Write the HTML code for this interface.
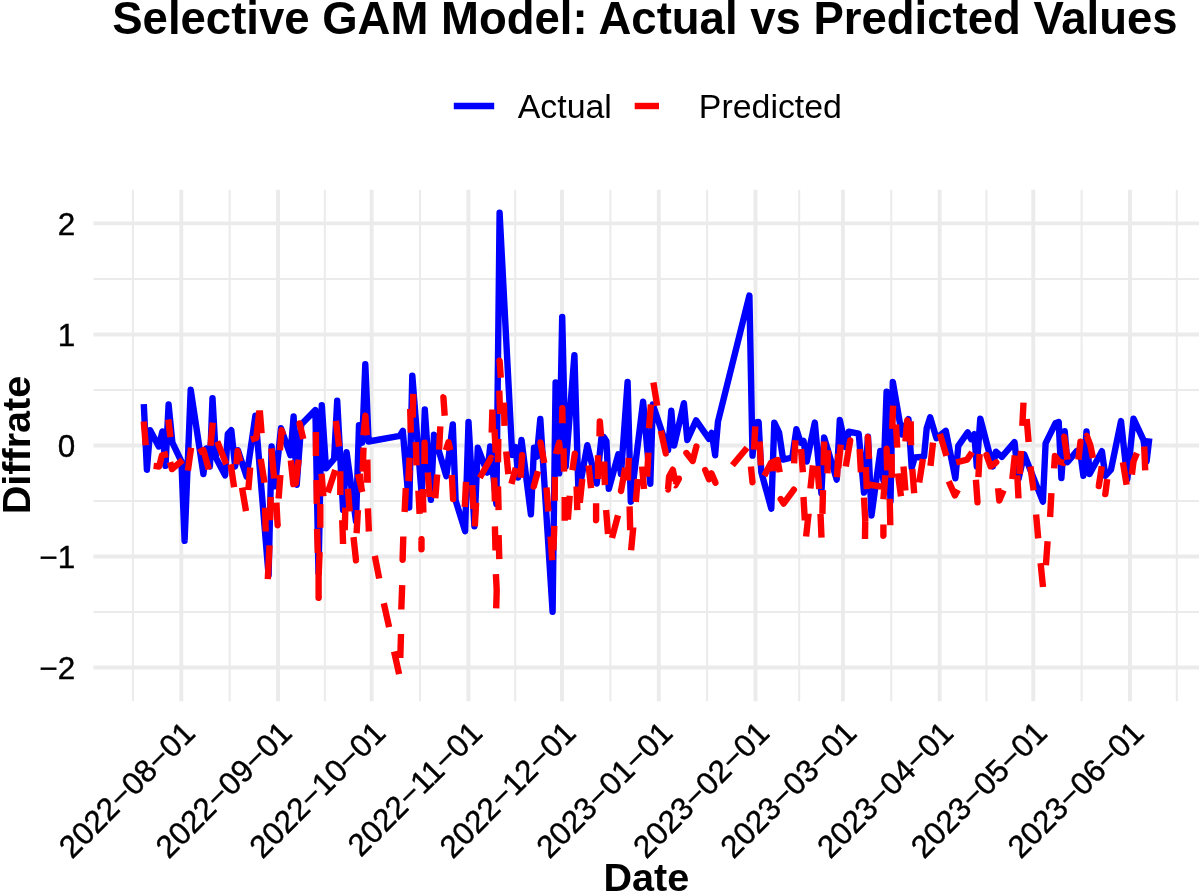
<!DOCTYPE html>
<html lang="en"><head><meta charset="utf-8"><title>Selective GAM Model: Actual vs Predicted Values</title>
<style>html,body{margin:0;padding:0;background:#fff;}body{width:1200px;height:893px;overflow:hidden;}svg{display:block;}text{font-family:"Liberation Sans",Arial,sans-serif;fill:#000;}.tk{font-size:31.45px;fill:#000;stroke:#000;stroke-width:0.4px;}.lg{font-size:33.9px;}.b{font-weight:bold;}</style></head><body>
<svg width="1200" height="893" viewBox="0 0 1200 893">
<rect x="0" y="0" width="1200" height="893" fill="#fff"/>
<g stroke="#ebebeb" fill="none">
<line x1="93.5" x2="1199" y1="278.9" y2="278.9" stroke-width="2.0"/>
<line x1="93.5" x2="1199" y1="390" y2="390" stroke-width="2.0"/>
<line x1="93.5" x2="1199" y1="501" y2="501" stroke-width="2.0"/>
<line x1="93.5" x2="1199" y1="612" y2="612" stroke-width="2.0"/>
<line x1="132.93" x2="132.93" y1="189.8" y2="701.2" stroke-width="2.0"/>
<line x1="229.67" x2="229.67" y1="189.8" y2="701.2" stroke-width="2.0"/>
<line x1="324.85" x2="324.85" y1="189.8" y2="701.2" stroke-width="2.0"/>
<line x1="420.03" x2="420.03" y1="189.8" y2="701.2" stroke-width="2.0"/>
<line x1="515.21" x2="515.21" y1="189.8" y2="701.2" stroke-width="2.0"/>
<line x1="610.40" x2="610.40" y1="189.8" y2="701.2" stroke-width="2.0"/>
<line x1="707.14" x2="707.14" y1="189.8" y2="701.2" stroke-width="2.0"/>
<line x1="799.20" x2="799.20" y1="189.8" y2="701.2" stroke-width="2.0"/>
<line x1="891.26" x2="891.26" y1="189.8" y2="701.2" stroke-width="2.0"/>
<line x1="986.44" x2="986.44" y1="189.8" y2="701.2" stroke-width="2.0"/>
<line x1="1081.62" x2="1081.62" y1="189.8" y2="701.2" stroke-width="2.0"/>
<line x1="1176.80" x2="1176.80" y1="189.8" y2="701.2" stroke-width="2.0"/>
<line x1="93.5" x2="1199" y1="223.4" y2="223.4" stroke-width="3.9"/>
<line x1="93.5" x2="1199" y1="334.45" y2="334.45" stroke-width="3.9"/>
<line x1="93.5" x2="1199" y1="445.5" y2="445.5" stroke-width="3.9"/>
<line x1="93.5" x2="1199" y1="556.5" y2="556.5" stroke-width="3.9"/>
<line x1="93.5" x2="1199" y1="667.55" y2="667.55" stroke-width="3.9"/>
<line x1="181.30" x2="181.30" y1="189.8" y2="701.2" stroke-width="3.9"/>
<line x1="278.04" x2="278.04" y1="189.8" y2="701.2" stroke-width="3.9"/>
<line x1="371.66" x2="371.66" y1="189.8" y2="701.2" stroke-width="3.9"/>
<line x1="468.40" x2="468.40" y1="189.8" y2="701.2" stroke-width="3.9"/>
<line x1="562.03" x2="562.03" y1="189.8" y2="701.2" stroke-width="3.9"/>
<line x1="658.77" x2="658.77" y1="189.8" y2="701.2" stroke-width="3.9"/>
<line x1="755.51" x2="755.51" y1="189.8" y2="701.2" stroke-width="3.9"/>
<line x1="842.89" x2="842.89" y1="189.8" y2="701.2" stroke-width="3.9"/>
<line x1="939.63" x2="939.63" y1="189.8" y2="701.2" stroke-width="3.9"/>
<line x1="1033.25" x2="1033.25" y1="189.8" y2="701.2" stroke-width="3.9"/>
<line x1="1129.99" x2="1129.99" y1="189.8" y2="701.2" stroke-width="3.9"/>
</g>
<clipPath id="pc"><rect x="93.5" y="189.8" width="1105.5" height="511.40000000000003"/></clipPath>
<polyline clip-path="url(#pc)" fill="none" stroke="#0000ff" stroke-width="6.4" stroke-linejoin="round" stroke-linecap="butt" points="143.8,404.1 146.9,469.7 150.1,430.2 158.8,446.5 162.4,431.4 165.5,465.9 168.6,404.5 172.4,442.7 181.4,461.5 184.6,540.9 190.7,389.8 203.4,474.1 206.5,448.4 209.9,466.5 212.5,398.2 215.9,457.8 225.1,475.3 227.8,433.9 231.3,430.2 235.1,466.5 237.9,450.2 246.6,476.6 255.4,415.7 268.6,575.3 271.6,446.5 274.9,486.4 281.0,428.3 290.4,455.3 293.6,416.4 296.7,484.7 301.2,424.5 315.4,410.1 318.5,573.2 321.8,405.1 326.0,468.4 334.1,459.0 337.2,400.7 343.1,510.1 346.6,452.1 356.0,521.4 359.0,425.2 362.2,442.7 365.3,364.3 368.6,441.5 399.8,435.9 402.8,430.8 409.2,507.6 412.3,375.6 421.7,495.0 424.8,409.5 430.9,499.8 434.0,434.6 446.3,476.2 452.8,424.5 455.6,500.4 465.1,531.1 468.5,422.0 474.4,526.4 477.8,447.7 487.3,472.6 490.2,446.5 496.4,503.9 499.6,212.8 512.2,455.0 515.8,447.1 518.1,477.6 521.5,440.0 530.9,514.3 534.0,447.7 536.8,456.8 540.3,418.9 552.6,611.7 555.6,382.5 559.2,473.4 562.2,316.9 565.7,466.5 574.4,355.2 578.5,493.9 587.3,445.2 596.7,483.6 601.4,437.9 603.9,437.1 606.4,441.1 608.8,488.9 618.3,454.3 621.0,474.1 627.6,381.9 630.8,501.7 643.1,401.6 650.3,483.7 652.8,404.5 668.1,450.2 671.3,410.7 674.1,445.6 683.9,403.2 687.3,440.0 696.1,420.4 709.0,438.9 711.7,432.9 715.2,455.3 715.1,455.0 718.0,421.4 749.4,295.6 752.5,455.6 755.5,422.6 758.6,422.0 761.3,472.2 771.3,508.7 774.3,422.6 779.1,432.7 783.1,459.6 792.3,457.5 796.4,429.2 800.7,442.7 803.5,440.8 806.7,461.5 814.8,422.6 821.4,493.3 824.1,437.4 836.7,479.7 839.8,419.9 845.6,447.1 848.7,431.7 858.7,433.7 864.0,492.6 868.0,436.7 871.5,515.5 880.3,450.9 883.4,480.3 886.6,391.7 890.5,501.4 892.8,381.9 901.9,434.6 908.5,419.1 911.7,467.8 914.7,457.5 924.0,456.8 926.7,428.3 930.2,417.3 936.5,438.3 936.5,438.3 945.8,430.8 955.4,478.3 958.3,445.8 967.7,432.4 971.2,439.2 974.3,434.2 976.8,466.5 980.3,418.6 992.8,466.5 995.9,451.7 1001.8,456.8 1014.5,442.1 1018.5,479.1 1024.2,454.3 1042.9,501.7 1045.6,443.3 1055.4,423.3 1058.7,422.0 1061.4,478.1 1064.7,431.2 1067.4,462.2 1076.9,450.9 1080.0,450.2 1083.4,475.9 1086.5,431.4 1089.6,474.1 1101.9,451.2 1105.3,475.9 1111.0,469.7 1121.0,421.1 1127.3,479.1 1133.5,418.6 1143.5,440.2 1146.6,461.5 1149.3,438.4"/>
<path clip-path="url(#pc)" fill="none" stroke="#ff0000" stroke-width="6.4" stroke-linejoin="round" stroke-linecap="butt" d="M143.8 421.4 L145.7 445.2 M153.6 465.9 L159.1 466.5 L162.0 455.3 L168.0 454.0 M168.3 419.5 L170.4 437.1 M170.1 462.2 L172.0 469.1 L182.7 460.0 M191.1 447.7 L187.9 470.6 M198.7 452.5 L203.4 450.0 L208.8 469.3 M210.5 445.8 L212.8 422.6 M217.2 441.5 L226.3 464.3 M230.7 464.3 L234.1 487.2 M236.5 464.3 L237.6 450.9 L240.1 461.5 M242.0 487.6 L246.0 511.1 M248.3 490.1 L250.2 467.5 M251.0 439.6 L256.3 437.9 L259.4 410.5 M259.8 410.5 L261.6 433.3 M260.7 459.0 L264.5 482.8 M271.4 448.4 L274.1 478.5 M279.9 450.2 L281.6 430.2 L283.3 435.2 M290.8 460.3 L293.3 484.1 L295.8 483.5 L298.6 459.6 M299.8 425.4 L299.6 423.5 L303.3 438.9 M315.9 432.1 L315.9 455.9 M335.9 420.8 L339.1 446.5 M363.5 435.2 L365.4 415.7 L366.7 435.2 M363.5 447.7 L362.7 471.6 M367.3 459.6 L367.7 482.8 M357.9 474.1 L362.3 492.0 M265.1 507.6 L265.7 531.5 M269.5 545.3 L267.8 579.1 M270.1 520.2 L270.7 497.0 M276.4 502.6 L277.6 525.2 L277.9 523.9 M278.6 498.6 L280.4 475.0 M316.5 480.0 L316.8 503.9 M321.5 473.8 L323.4 496.3 M327.8 492.6 L335.3 470.0 M320.3 503.9 L320.3 527.7 M317.1 528.9 L317.8 552.8 M319.6 552.2 L318.6 576.0 L318.6 597.8 L318.8 596.1 M340.3 471.3 L340.3 495.1 M347.9 488.8 L349.7 511.4 M345.4 507.6 L344.7 530.2 M342.2 520.2 L343.1 544.0 M359.8 473.8 L361.7 490.1 M366.7 470.0 L367.3 482.5 M357.9 510.1 L356.6 533.3 M367.9 508.3 L368.9 531.5 M353.5 537.1 L356.0 560.3 L356.3 559.3 M374.8 555.9 L379.2 578.5 M383.8 603.2 L389.1 627.1 M394.1 651.5 L399.1 674.1 M401.0 634.0 L400.3 657.8 M402.2 585.1 L401.3 609.5 M413.3 393.8 L412.7 417.6 M410.2 408.8 L410.8 432.7 M415.8 442.1 L416.5 465.3 M409.6 457.8 L408.3 481.0 M424.4 464.0 L424.6 442.7 L424.9 464.0 M443.2 398.8 L443.4 397.3 L444.7 415.7 M440.3 426.4 L439.1 449.6 M445.9 450.2 L448.5 442.3 L450.3 450.2 M479.8 477.8 L491.1 457.8 L491.6 458.8 M492.4 409.5 L491.7 432.7 M409.6 470.0 L408.9 481.3 M405.8 488.2 L404.6 512.0 M403.3 536.5 L402.6 559.7 L402.8 558.4 M421.4 540.2 L421.5 539.2 L421.5 549.3 L421.6 548.3 M418.4 490.7 L419.6 513.9 M422.7 488.8 L423.4 512.6 M427.8 472.5 L429.6 497.0 M437.2 474.4 L435.3 498.2 M451.8 475.0 L453.1 499.1 L453.2 498.2 M466.0 481.9 L464.8 507.0 M472.3 485.1 L473.5 508.9 M476.1 502.6 L474.8 526.4 M494.2 477.5 L494.9 501.4 M498.0 486.3 L498.6 510.1 M494.9 526.4 L495.5 550.3 M498.6 535.2 L499.3 559.1 M495.9 574.1 L496.7 590.4 L496.2 608.3 M492.4 409.5 L492.9 432.7 M499.3 390.7 L500.1 413.9 M503.9 402.6 L504.5 425.8 M494.5 429.5 L495.7 452.7 M498.3 438.9 L498.0 462.2 M499.4 362.4 L499.6 360.6 L500.8 377.7 M506.2 451.5 L508.3 474.1 M515.8 467.8 L511.4 483.9 M520.5 477.8 L522.1 455.3 L522.3 457.8 M540.0 444.0 L540.5 442.5 L544.3 463.0 M538.0 471.2 L533.7 486.6 L534.0 486.0 M562.1 423.3 L562.3 408.2 L562.6 423.3 M555.9 454.0 L559.1 442.7 L560.3 454.0 M563.5 448.4 L564.1 471.6 M572.4 470.3 L574.8 453.7 L575.0 455.3 M599.5 436.4 L599.8 421.4 L601.1 436.4 M598.0 455.3 L598.0 479.1 M604.2 461.5 L604.9 484.7 M588.6 465.3 L591.1 488.1 M546.5 487.6 L548.4 511.4 M554.9 476.9 L554.7 500.7 M554.3 525.8 L553.4 550.3 M550.6 536.5 L552.2 560.3 M564.7 497.0 L564.7 520.8 M569.7 495.7 L567.9 519.5 M582.3 478.8 L579.8 502.6 M576.6 486.3 L577.3 510.1 M596.1 503.2 L596.1 520.2 L596.3 519.5 M606.1 510.1 L608.0 534.0 M604.2 470.0 L604.9 485.1 M628.7 457.8 L627.9 480.3 M625.2 467.8 L621.0 491.0 L621.3 490.4 M648.4 452.7 L647.1 476.6 M642.1 466.5 L644.0 489.1 M637.7 479.1 L635.8 501.9 M650.9 404.5 L649.0 428.3 M653.4 382.5 L657.2 405.7 M660.9 430.8 L665.8 453.4 L666.1 452.5 M667.7 488.9 L668.0 489.4 L669.1 476.6 L672.8 469.7 L674.7 479.1 L678.9 478.7 L675.4 485.1 L675.1 484.9 M686.6 453.5 L686.4 453.0 L692.7 460.9 L696.4 446.5 L696.3 447.0 M705.5 470.6 L705.2 470.1 L709.0 479.3 L711.5 473.4 L715.5 482.8 L715.4 482.3 M618.0 515.4 L612.0 538.0 M629.6 506.4 L630.2 530.2 M633.3 527.1 L631.1 550.3 M732.4 465.3 L747.1 447.7 M755.3 426.4 L754.0 449.6 M759.6 441.5 L760.9 465.3 M750.9 466.5 L752.5 482.2 L752.6 481.3 M764.3 475.9 L770.9 463.0 L777.6 460.0 L779.7 472.2 M769.7 468.4 L780.3 467.8 M795.4 440.2 L794.1 463.4 M801.0 449.0 L802.9 472.2 M812.9 465.3 L810.4 488.5 M817.3 465.9 L819.2 489.1 M824.2 441.5 L823.6 465.3 M828.0 450.2 L827.4 473.4 M781.0 499.6 L780.7 499.1 L783.6 503.6 L793.9 489.7 L793.6 490.1 M803.5 497.0 L804.8 520.2 M808.6 513.3 L806.1 536.5 M823.0 490.1 L822.4 513.9 M820.5 513.9 L821.5 537.7 M840.8 444.6 L838.3 467.8 M838.3 454.0 L837.0 477.2 M850.0 441.0 L850.2 440.5 L845.8 466.5 M859.6 449.0 L860.9 472.2 M865.9 467.2 L866.8 489.1 M867.5 438.3 L867.8 437.1 L869.0 459.0 M865.9 484.1 L877.8 486.0 L883.1 486.9 M886.3 450.2 L886.6 448.7 L887.2 470.3 M891.6 454.0 L891.8 477.8 M885.3 475.3 L883.4 499.2 M893.1 405.7 L892.2 428.9 M896.0 424.5 L897.2 447.7 M905.4 441.5 L907.3 420.4 L907.5 422.0 M910.7 421.4 L911.0 445.2 M903.5 466.5 L905.4 490.4 M897.9 473.4 L901.0 496.3 M912.3 469.1 L914.2 493.3 M922.9 459.0 L919.2 482.6 M933.0 442.7 L930.5 465.9 M864.0 497.6 L865.3 521.4 M865.3 515.8 L865.0 539.0 M889.7 498.8 L890.3 525.2 M883.4 524.6 L883.4 535.8 L883.6 535.0 M939.9 433.9 L946.4 455.9 M956.2 462.5 L967.1 459.6 L971.7 452.7 L972.0 452.2 M979.6 454.0 L978.4 477.2 M975.9 479.7 L977.5 502.3 L977.6 501.4 M986.8 455.8 L986.5 455.0 L990.6 466.3 L996.3 462.3 L996.1 462.5 M948.7 481.3 L954.9 495.4 L957.9 489.7 M1014.8 455.3 L1012.3 479.1 M1021.0 450.9 L1019.8 474.1 M1023.5 402.6 L1022.3 425.8 M1026.7 418.9 L1028.6 442.1 M1030.4 466.5 L1033.6 490.4 M1017.3 475.3 L1018.5 498.3 M998.1 488.2 L999.3 500.5 L1003.6 490.3 M1054.1 468.4 L1054.9 455.9 L1058.9 461.5 L1063.7 463.0 L1063.9 462.8 M1063.9 437.7 L1064.2 436.7 L1067.4 459.6 M1078.4 459.6 L1080.5 441.7 L1080.7 442.7 M1086.3 436.7 L1086.8 435.9 L1090.3 445.2 L1093.0 458.0 M1101.8 466.3 L1098.8 486.0 L1098.9 485.1 M1107.2 479.1 L1105.3 494.1 L1105.4 493.4 M1122.9 462.2 L1126.6 484.7 M1136.9 453.0 L1133.5 461.5 L1131.9 474.7 M1144.2 446.5 L1145.2 470.3 M1051.4 493.2 L1050.1 517.0 M1036.1 514.5 L1038.2 538.4 M1047.6 541.2 L1045.9 565.2 M1040.6 563.1 L1043.0 587.0"/>
<text class="tk" x="75.2" y="234.7" text-anchor="end">2</text>
<text class="tk" x="75.2" y="345.8" text-anchor="end">1</text>
<text class="tk" x="75.2" y="456.8" text-anchor="end">0</text>
<text class="tk" x="75.2" y="567.8" text-anchor="end">−1</text>
<text class="tk" x="75.2" y="678.8" text-anchor="end">−2</text>
<text class="tk" text-anchor="end" transform="translate(196.90,734.8) rotate(-45)">2022−08−01</text>
<text class="tk" text-anchor="end" transform="translate(293.64,734.8) rotate(-45)">2022−09−01</text>
<text class="tk" text-anchor="end" transform="translate(387.26,734.8) rotate(-45)">2022−10−01</text>
<text class="tk" text-anchor="end" transform="translate(484.00,734.8) rotate(-45)">2022−11−01</text>
<text class="tk" text-anchor="end" transform="translate(577.63,734.8) rotate(-45)">2022−12−01</text>
<text class="tk" text-anchor="end" transform="translate(674.37,734.8) rotate(-45)">2023−01−01</text>
<text class="tk" text-anchor="end" transform="translate(771.11,734.8) rotate(-45)">2023−02−01</text>
<text class="tk" text-anchor="end" transform="translate(858.49,734.8) rotate(-45)">2023−03−01</text>
<text class="tk" text-anchor="end" transform="translate(955.23,734.8) rotate(-45)">2023−04−01</text>
<text class="tk" text-anchor="end" transform="translate(1048.85,734.8) rotate(-45)">2023−05−01</text>
<text class="tk" text-anchor="end" transform="translate(1145.59,734.8) rotate(-45)">2023−06−01</text>
<text class="b" x="644.95" y="33.8" text-anchor="middle" font-size="45.5">Selective GAM Model: Actual vs Predicted Values</text>
<text class="b" x="646.3" y="891.3" text-anchor="middle" font-size="39.6">Date</text>
<text class="b" text-anchor="middle" font-size="39.6" transform="translate(29.7,445) rotate(-90)">Diffrate</text>
<line x1="453.8" x2="494.2" y1="106" y2="106" stroke="#0000ff" stroke-width="6.4"/>
<text class="lg" x="517.7" y="118.3">Actual</text>
<line x1="634.7" x2="659" y1="106" y2="106" stroke="#ff0000" stroke-width="6.4"/>
<text class="lg" x="698.8" y="118.1">Predicted</text>
</svg></body></html>
